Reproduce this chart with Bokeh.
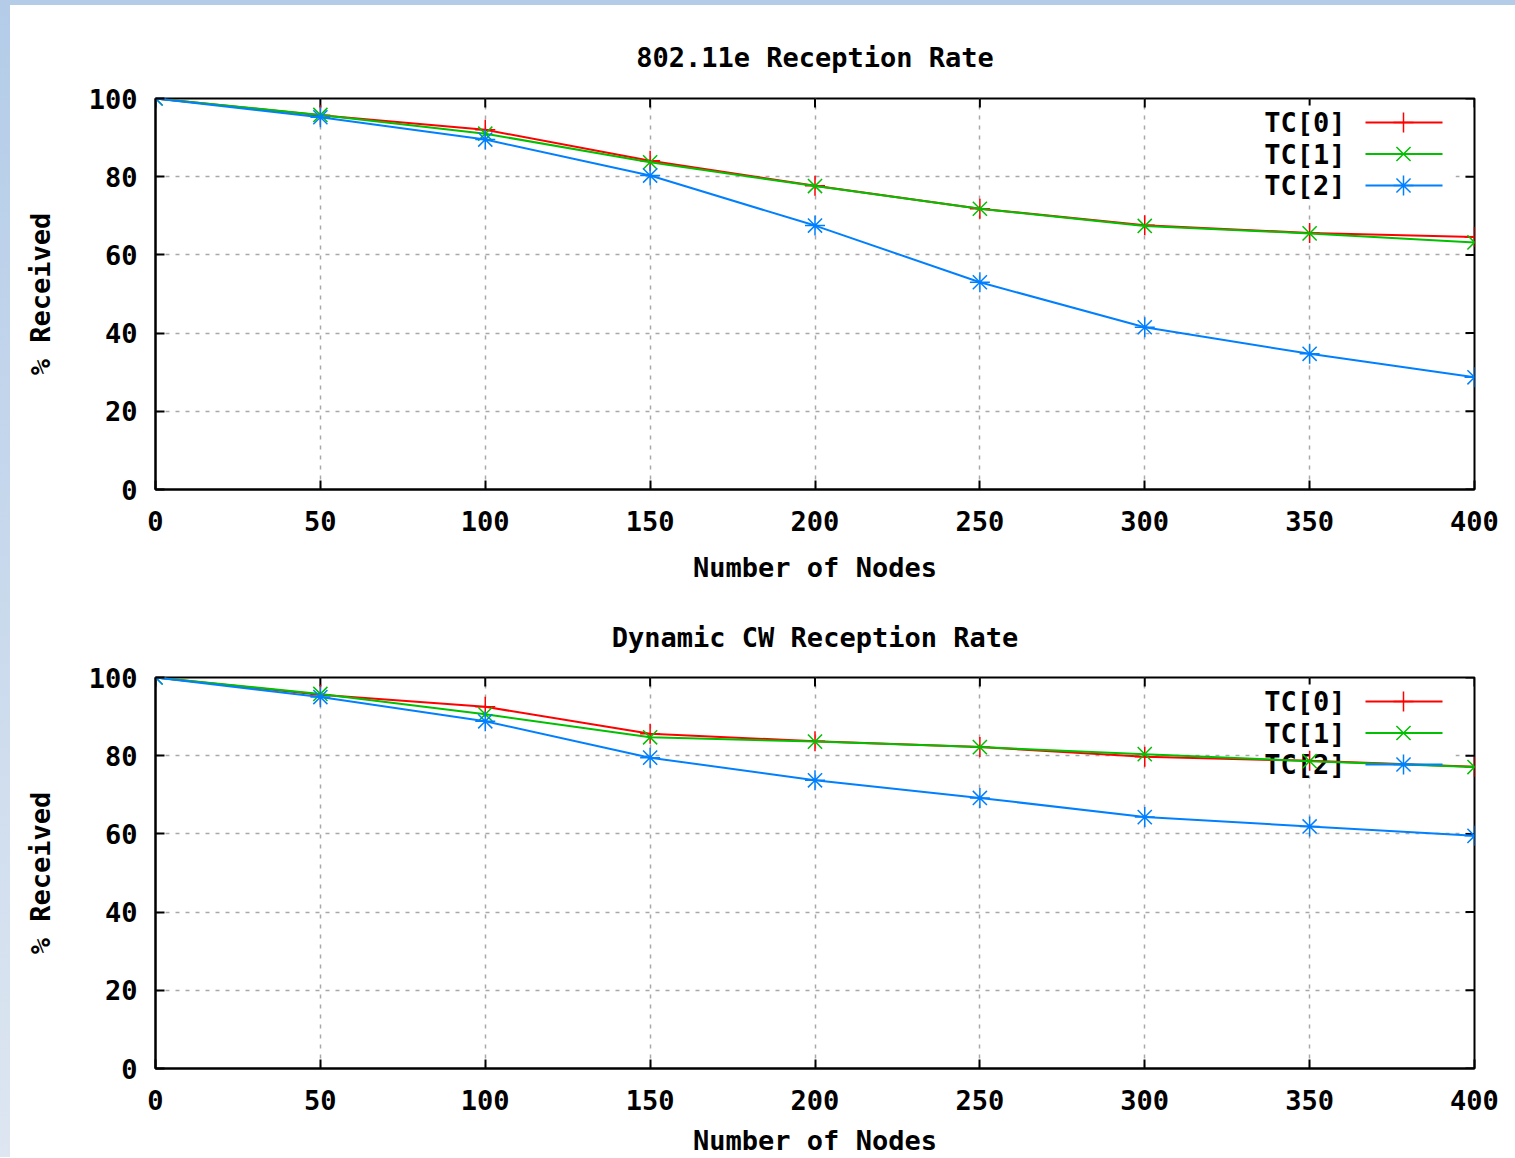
from bokeh.plotting import figure
from bokeh.layouts import column, row
from bokeh.models import Range1d, FixedTicker, Div
from bokeh.embed import file_html
from bokeh.resources import INLINE
from bokeh.core.properties import value

# ---------------- data ----------------
nodes = [0, 50, 100, 150, 200, 250, 300, 350, 400]

e_tc0 = [100, 95.7, 92.0, 84.1, 77.7, 71.8, 67.6, 65.6, 64.6]
e_tc1 = [100, 95.8, 91.0, 83.7, 77.6, 71.8, 67.4, 65.5, 63.2]
e_tc2 = [100, 95.2, 89.5, 80.3, 67.5, 53.0, 41.5, 34.7, 28.7]

d_tc0 = [100, 95.6, 92.5, 85.6, 83.7, 82.2, 79.7, 78.7, 77.2]
d_tc1 = [100, 95.8, 90.6, 84.7, 83.6, 82.2, 80.4, 78.6, 77.1]
d_tc2 = [100, 95.0, 88.8, 79.5, 73.7, 69.2, 64.3, 61.9, 59.5]

series_names = ["TC[0]", "TC[1]", "TC[2]"]
x_ticks = [0, 50, 100, 150, 200, 250, 300, 350, 400]
y_ticks = [0, 20, 40, 60, 80, 100]
titles = ["802.11e Reception Rate", "Dynamic CW Reception Rate"]
x_label = "Number of Nodes"
y_label = "% Received"

colors = ["#ff0000", "#00c000", "#0080ff"]
markers = ["cross", "x", "asterisk"]

FONT = "DejaVu Sans Mono"
FS = "27px"

FW, FH = 1319, 391
XMIN, XMAX = 0, 400
YMIN, YMAX = 0, 100


def px_x(px):  # frame pixel offset from left -> data x
    return XMIN + px / FW * (XMAX - XMIN)


def px_y(px):  # frame pixel offset from top -> data y
    return YMAX - px / FH * (YMAX - YMIN)


def style_axis(ax, ticks):
    ax.ticker = FixedTicker(ticks=ticks)
    ax.axis_line_color = "black"
    ax.axis_line_width = 2
    ax.major_tick_in = 9
    ax.major_tick_out = 0
    ax.major_tick_line_width = 2
    ax.major_tick_line_color = "black"
    ax.minor_tick_line_color = None
    ax.major_label_text_font = FONT
    ax.major_label_text_font_style = "bold"
    ax.major_label_text_color = "black"
    ax.major_label_text_font_size = FS


def make_plot(title, series, top_border, bottom_border, title_standoff,
              xlabel_standoff):
    p = figure(frame_width=FW, frame_height=FH,
               x_range=Range1d(XMIN, XMAX), y_range=Range1d(YMIN, YMAX),
               output_backend="svg", toolbar_location=None,
               min_border_left=145, min_border_right=40,
               min_border_top=top_border, min_border_bottom=bottom_border,
               background_fill_color="white", border_fill_color="white",
               outline_line_color="black", outline_line_width=2)
    p.title.text = title
    p.title.align = "center"
    p.title.vertical_align = "top"
    p.title.text_font = FONT
    p.title.text_font_size = FS
    p.title.text_font_style = "bold"
    p.title.text_color = "black"
    p.title.standoff = title_standoff

    for ax in p.xaxis:
        style_axis(ax, x_ticks)
        ax.major_label_standoff = 21
        ax.axis_label = x_label
        ax.axis_label_text_font = FONT
        ax.axis_label_text_font_size = FS
        ax.axis_label_text_font_style = "bold"
        ax.axis_label_text_color = "black"
        ax.axis_label_standoff = xlabel_standoff
    for ax in p.yaxis:
        style_axis(ax, y_ticks)
        ax.major_label_standoff = 18
        ax.axis_label = y_label
        ax.axis_label_text_font = FONT
        ax.axis_label_text_font_size = FS
        ax.axis_label_text_font_style = "bold"
        ax.axis_label_text_color = "black"
        ax.axis_label_standoff = 30

    for g in (p.xgrid, p.ygrid):
        g.grid_line_color = "#a8a8a8"
        g.grid_line_width = 1.5
        g.grid_line_dash = "4 6"
    p.xgrid.ticker = FixedTicker(ticks=x_ticks)
    p.ygrid.ticker = FixedTicker(ticks=y_ticks)

    # mirrored inward ticks on the top and right border
    p.segment(x0=x_ticks, x1=x_ticks, y0=[YMAX] * len(x_ticks),
              y1=[px_y(9)] * len(x_ticks), line_color="black", line_width=2)
    p.segment(x0=[XMAX] * len(y_ticks), x1=[px_x(FW - 9)] * len(y_ticks),
              y0=y_ticks, y1=y_ticks, line_color="black", line_width=2)

    # opaque key box
    p.quad(left=px_x(1103), right=px_x(1300), top=px_y(7), bottom=px_y(99),
           fill_color="white", line_color=None)

    rows = [px_y(24), px_y(55.5), px_y(87)]
    p.text(x=[px_x(1190)] * 3, y=rows, text=series_names,
           text_align="right", text_baseline="middle",
           text_font=value(FONT), text_font_size=FS, text_font_style="bold",
           text_color="black")

    for name, vals, c, m, ry in zip(series_names, series, colors, markers, rows):
        p.segment(x0=[px_x(1210)], x1=[px_x(1287)], y0=[ry], y1=[ry],
                  line_color=c, line_width=2)
        p.scatter(x=[px_x(1248)], y=[ry], marker=m, size=20,
                  line_color=c, line_width=1.5)
        p.line(nodes, vals, line_color=c, line_width=2)
        p.scatter(nodes, vals, marker=m, size=20, line_color=c, line_width=1.5)
    return p


p1 = make_plot(titles[0], [e_tc0, e_tc1, e_tc2], 93, 100, 47, 18)
p2 = make_plot(titles[1], [d_tc0, d_tc1, d_tc2], 88, 89, 46, 12)

top_strip = Div(text="", width=1505, height=5,
                styles={"background-color": "#b4cce8", "margin": "0", "padding": "0"})
left_strip = Div(text="", width=10, height=1157,
                 styles={"background": "linear-gradient(#b4cce8, #dde6f1)",
                         "margin": "0", "padding": "0"})

layout = row(left_strip, column(top_strip, p1, p2, spacing=0), spacing=0)

open("out.html", "w").write(file_html(layout, INLINE))
